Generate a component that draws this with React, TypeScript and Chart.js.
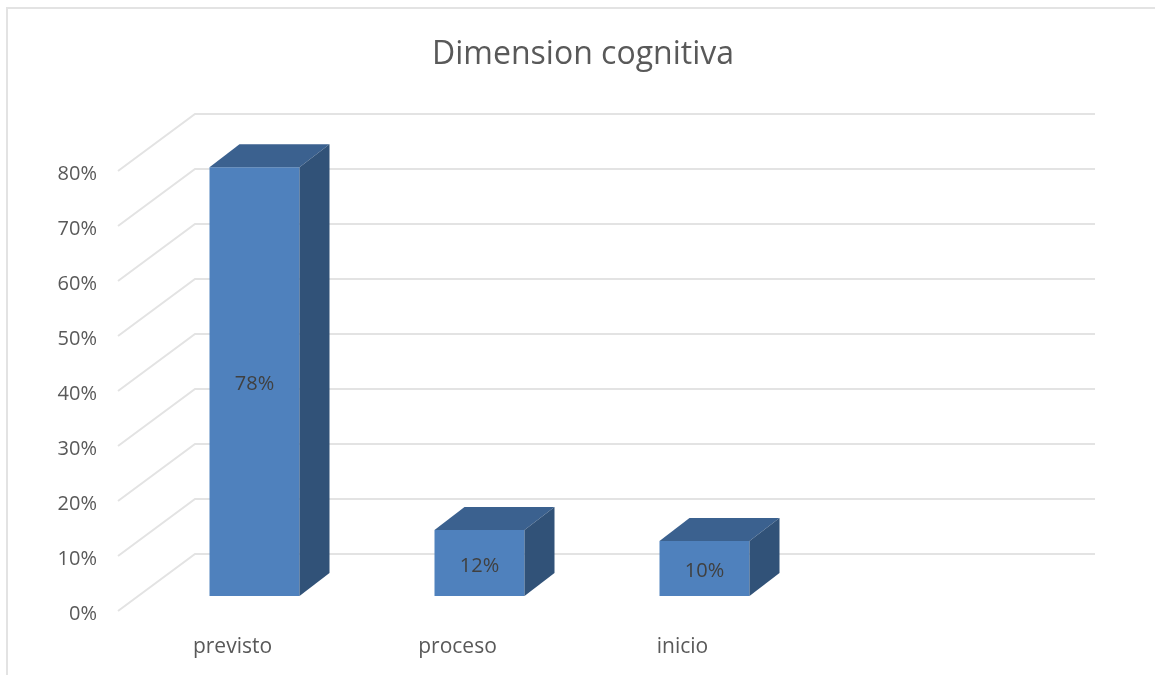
import React, { useEffect, useRef } from "react";
import { Chart, registerables } from "chart.js";

Chart.register(...registerables);

const TITLE = "Dimension cognitiva";
const categories = ["previsto", "proceso", "inicio", ""];
const values = [78, 12, 10, null];
const axisTicks = [0, 10, 20, 30, 40, 50, 60, 70, 80];

const FONT = "'Open Sans', sans-serif";
const TEXT = "#595959";
const GRID = "#e3e3e3";
const FRONT = "#4f81bd";
const TOP = "#3b618f";
const SIDE = "#315278";

// Perspective offsets, in pixels.
const BACK_DX = 53, BACK_DY = 57;   // floor edge height -> back wall
const FRONT_DX = -24;               // bar plane -> front floor edge
const DEPTH_DX = 30, DEPTH_DY = 23; // bar depth

const perspective = {
  id: "perspective",
  beforeDatasetsDraw(chart: any) {
    const { ctx, chartArea, scales } = chart;
    const s = scales.y;
    ctx.save();
    ctx.strokeStyle = GRID;
    ctx.lineWidth = 2;
    axisTicks.forEach((v) => {
      const y = Math.round(s.getPixelForValue(v));
      const bx = chartArea.left + BACK_DX;
      const by = y - BACK_DY;
      ctx.beginPath();
      ctx.moveTo(chartArea.left + FRONT_DX, y);
      ctx.lineTo(bx, by);
      ctx.lineTo(chartArea.right + BACK_DX, by);
      ctx.stroke();
    });
    ctx.restore();
  },
  afterDatasetsDraw(chart: any) {
    const { ctx } = chart;
    const meta = chart.getDatasetMeta(0);
    ctx.save();
    meta.data.forEach((bar: any, i: number) => {
      const v = values[i];
      if (v == null) return;
      const { x, y, base, width } = bar.getProps(["x", "y", "base", "width"], true);
      const l = x - width / 2, r = x + width / 2;
      ctx.fillStyle = TOP;
      ctx.beginPath();
      ctx.moveTo(l, y);
      ctx.lineTo(l + DEPTH_DX, y - DEPTH_DY);
      ctx.lineTo(r + DEPTH_DX, y - DEPTH_DY);
      ctx.lineTo(r, y);
      ctx.closePath();
      ctx.fill();
      ctx.fillStyle = SIDE;
      ctx.beginPath();
      ctx.moveTo(r, y);
      ctx.lineTo(r + DEPTH_DX, y - DEPTH_DY);
      ctx.lineTo(r + DEPTH_DX, base - DEPTH_DY);
      ctx.lineTo(r, base);
      ctx.closePath();
      ctx.fill();
      ctx.fillStyle = "#404040";
      ctx.font = `20px ${FONT}`;
      ctx.textAlign = "center";
      ctx.textBaseline = "middle";
      ctx.fillText(`${v}%`, x, (y + base) / 2 + 3);
    });
    ctx.restore();
  },
};

export default function App() {
  const ref = useRef<HTMLCanvasElement>(null);
  useEffect(() => {
    const chart = new Chart(ref.current!, {
      type: "bar",
      data: {
        labels: categories,
        datasets: [
          {
            data: values,
            yAxisID: "bars",
            backgroundColor: FRONT,
            barPercentage: 1,
            categoryPercentage: 0.4,
          },
        ],
      },
      options: {
        responsive: false,
        animation: false,
        layout: { padding: 0 },
        plugins: {
          legend: { display: false },
          tooltip: { enabled: false },
          title: {
            display: true,
            text: TITLE,
            color: TEXT,
            font: { family: FONT, size: 32, weight: "normal" },
            padding: { top: 36, bottom: 40 },
          },
        },
        scales: {
          x: {
            grid: { display: false },
            border: { display: false },
            ticks: {
              color: TEXT,
              font: { family: FONT, size: 21 },
              labelOffset: -22,
              padding: 15,
              maxRotation: 0,
            },
            afterFit(a: any) { a.height = 64; },
          },
          y: {
            min: 0,
            max: 90.36,
            grid: { display: false },
            border: { display: false },
            ticks: {
              color: TEXT,
              font: { family: FONT, size: 20 },
              padding: 37,
              labelOffset: 3,
              stepSize: 10,
              callback: (v: any) => `${v}%`,
            },
            afterBuildTicks(a: any) {
              a.ticks = axisTicks.map((value) => ({ value }));
            },
            afterFit(a: any) { a.width = 131; },
          },
          bars: {
            position: "right",
            min: -2.727,
            max: 87.636,
            grid: { display: false },
            border: { display: false },
            ticks: { display: false },
            afterFit(a: any) { a.width = 113; },
          },
        },
      } as any,
      plugins: [perspective],
    });
    return () => chart.destroy();
  }, []);
  return (
    <div style={{ position: "absolute", inset: 0, overflow: "hidden", background: "#fff" }}>
      <div
        style={{
          position: "absolute",
          left: 6,
          top: 7,
          right: 0,
          bottom: 0,
          borderTop: `2px solid ${GRID}`,
          borderLeft: `2px solid ${GRID}`,
        }}
      />
      <canvas
        ref={ref}
        width={1144}
        height={675}
        style={{ position: "absolute", left: 11, top: 0, display: "block" }}
      />
    </div>
  );
}
